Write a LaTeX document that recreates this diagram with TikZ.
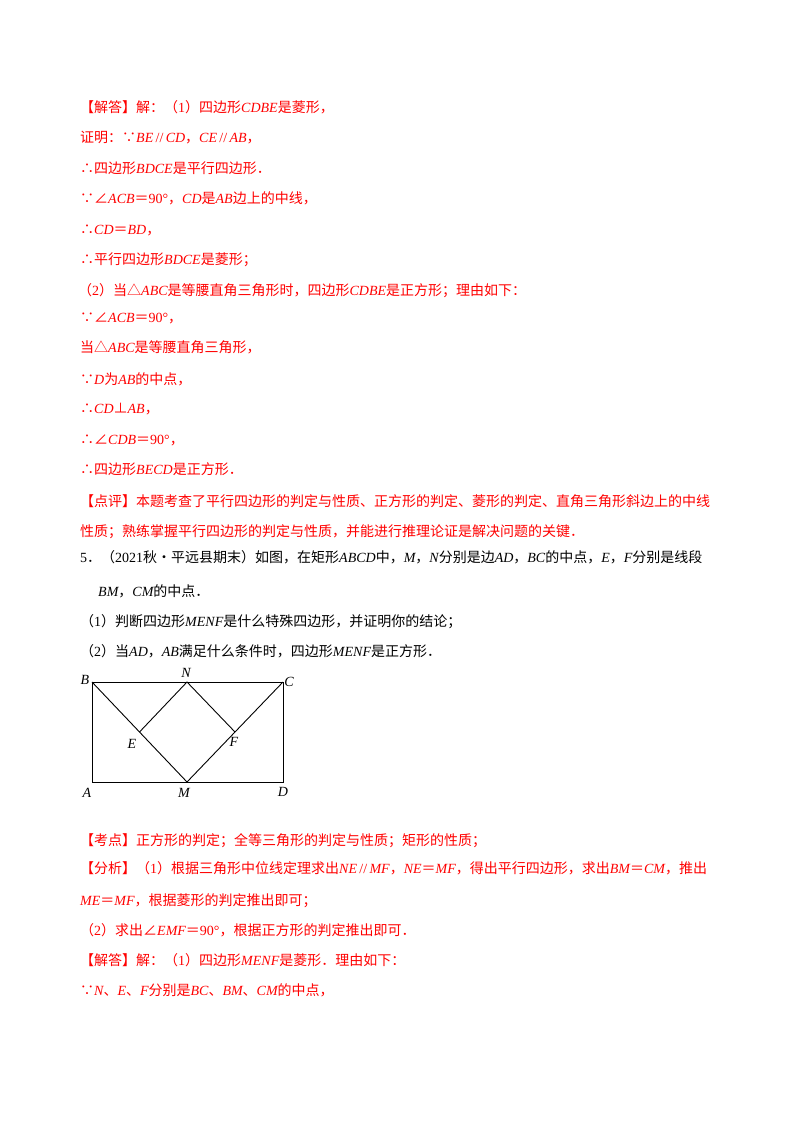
\documentclass[tikz,border=0pt]{standalone}
\usepackage{fontspec}
\setmainfont{Noto Sans CJK SC}
\newfontfamily\lat{Liberation Serif}
\newcommand{\m}[1]{{\lat\itshape #1}}
\newcommand{\n}[1]{{\lat #1}}
\definecolor{ans}{RGB}{255,0,0}
\begin{document}
\begin{tikzpicture}[x=1pt,y=-1pt,
  t/.style={anchor=base west,inner sep=0pt,font=\fontsize{14}{14}\selectfont},
  r/.style={t,text=ans},
  lbl/.style={inner sep=0pt,font=\lat\itshape\fontsize{14}{14}\selectfont},
  edge/.style={line width=0.9pt}]
\useasboundingbox (0,0) rectangle (800,1132);
\node[r] (l1) at (80,112) {【解答】解：（\n{1}）四边形\m{CDBE}是菱形，};
\node[r] (l2) at (80,142) {证明：∵\m{BE}\,\n{//}\,\m{CD}，\m{CE}\,\n{//}\,\m{AB}，};
\node[r] (l3) at (80,173) {∴四边形\m{BDCE}是平行四边形．};
\node[r] (l4) at (80,203) {∵∠\m{ACB}＝\n{90°}，\m{CD}是\m{AB}边上的中线，};
\node[r] (l5) at (80,234) {∴\m{CD}＝\m{BD}，};
\node[r] (l6) at (80,264) {∴平行四边形\m{BDCE}是菱形；};
\node[r] (l7) at (78,295) {（\n{2}）当△\m{ABC}是等腰直角三角形时，四边形\m{CDBE}是正方形；理由如下：};
\node[r] (l8) at (80,322) {∵∠\m{ACB}＝\n{90°}，};
\node[r] (l9) at (80,352) {当△\m{ABC}是等腰直角三角形，};
\node[r] (l10) at (80,384) {∵\m{D}为\m{AB}的中点，};
\node[r] (l11) at (80,413) {∴\m{CD}⊥\m{AB}，};
\node[r] (l12) at (80,444) {∴∠\m{CDB}＝\n{90°}，};
\node[r] (l13) at (80,474) {∴四边形\m{BECD}是正方形．};
\node[r] (l14) at (80,506) {【点评】本题考查了平行四边形的判定与性质、正方形的判定、菱形的判定、直角三角形斜边上的中线};
\node[r] (l15) at (80,536) {性质；熟练掌握平行四边形的判定与性质，并能进行推理论证是解决问题的关键．};
\node[t] (q1) at (80,562) {\n{5}．（\n{2021}秋•平远县期末）如图，在矩形\m{ABCD}中，\m{M}，\m{N}分别是边\m{AD}，\m{BC}的中点，\m{E}，\m{F}分别是线段};
\node[t] (q2) at (98,596) {\m{BM}，\m{CM}的中点．};
\node[t] (q3) at (80,626) {（\n{1}）判断四边形\m{MENF}是什么特殊四边形，并证明你的结论；};
\node[t] (q4) at (80,656) {（\n{2}）当\m{AD}，\m{AB}满足什么条件时，四边形\m{MENF}是正方形．};
% figure
\coordinate (B) at (92,682);
\coordinate (C) at (283,682);
\coordinate (A) at (92,782);
\coordinate (D) at (283,782);
\coordinate (N) at (187,682);
\coordinate (M) at (187,782);
\coordinate (E) at (139.5,732);
\coordinate (F) at (235,732);
\draw[edge] (A) rectangle (C);
\draw[edge] (B) -- (M) -- (C);
\draw[edge] (E) -- (N) -- (F);
\node[lbl] (lB) at (85,680) {B};
\node[lbl] (lN) at (186,673) {N};
\node[lbl] (lC) at (289,682) {C};
\node[lbl] (lE) at (132,744) {E};
\node[lbl] (lF) at (234,742) {F};
\node[lbl] (lA) at (87,793) {A};
\node[lbl] (lM) at (184,793) {M};
\node[lbl] (lD) at (283,792) {D};
\node[r] (k1) at (80,845) {【考点】正方形的判定；全等三角形的判定与性质；矩形的性质；};
\node[r] (k2) at (80,873) {【分析】（\n{1}）根据三角形中位线定理求出\m{NE}\,\n{//}\,\m{MF}，\m{NE}＝\m{MF}，得出平行四边形，求出\m{BM}＝\m{CM}，推出};
\node[r] (k3) at (80,905) {\m{ME}＝\m{MF}，根据菱形的判定推出即可；};
\node[r] (k4) at (80,935) {（\n{2}）求出∠\m{EMF}＝\n{90°}，根据正方形的判定推出即可．};
\node[r] (k5) at (80,965) {【解答】解：（\n{1}）四边形\m{MENF}是菱形．理由如下：};
\node[r] (k6) at (80,995) {∵\m{N}、\m{E}、\m{F}分别是\m{BC}、\m{BM}、\m{CM}的中点，};
\end{tikzpicture}
\end{document}
